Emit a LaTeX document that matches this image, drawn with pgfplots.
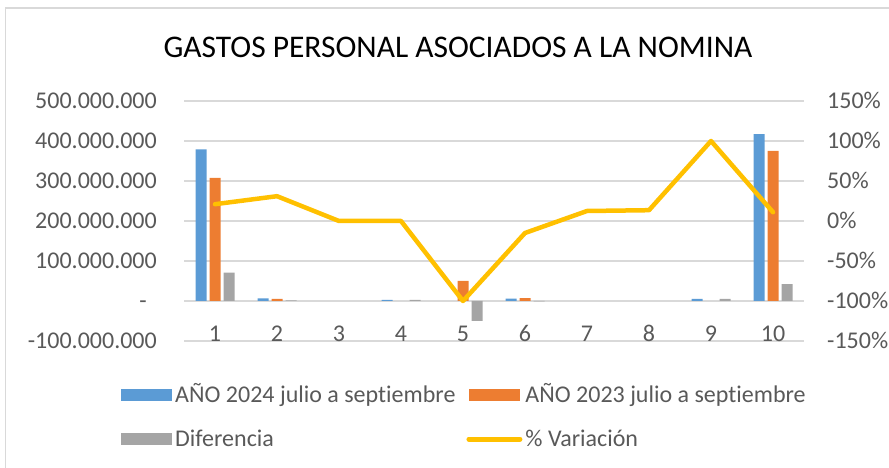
\documentclass[border=0pt]{standalone}
\usepackage{fontspec}
\setmainfont{Carlito}[Ligatures=NoCommon]
\usepackage{pgfplots}
\pgfplotsset{compat=1.18}

\definecolor{cblue}{HTML}{5B9BD5}
\definecolor{corange}{HTML}{ED7D31}
\definecolor{cgray}{HTML}{A5A5A5}
\definecolor{cyellow}{HTML}{FFC000}
\definecolor{gridgray}{HTML}{D9D9D9}
\definecolor{txtgray}{HTML}{595959}

\pgfplotsset{
  barleg/.style={legend image code/.code={\fill[##1] (0pt,-6pt) rectangle (51pt,6pt);}},
  lineleg/.style={legend image code/.code={\draw[##1] (0pt,0pt) -- (51pt,0pt);}},
  tickfont/.style={font=\fontsize{24}{28}\selectfont, text=txtgray},
}

\begin{document}
\begin{tikzpicture}
\path[use as bounding box] (0,0) rectangle (889pt,468pt);
\draw[gridgray, line width=1.5pt] (5.5pt,-5pt) -- (5.5pt,460pt) -- (895pt,460pt);

% left axis: amounts in millions (zero values left out)
\begin{axis}[
  at={(184pt,127pt)}, anchor=south west,
  width=620pt, height=240pt, scale only axis,
  xmin=0.5, xmax=10.5, ymin=-100, ymax=500,
  axis line style={draw=none},
  major tick length=0pt,
  ymajorgrids, grid style={gridgray, line width=1.5pt},
  xtick={1,...,10},
  xticklabels={1,2,3,4,5,6,7,8,9,10},
  xticklabel style={tickfont, anchor=center, inner sep=0pt, yshift=7.5pt},
  ytick={-100,0,100,200,300,400,500},
  yticklabels={-100.000.000,-\hspace*{10pt},100.000.000,200.000.000,300.000.000,400.000.000,500.000.000},
  yticklabel style={tickfont, anchor=east, inner sep=0pt, xshift=-27pt,
    text height=15.2pt, text depth=0pt},
  title={GASTOS PERSONAL ASOCIADOS A LA NOMINA},
  title style={at={(0.4419,1.2)}, anchor=center, inner sep=0pt,
    font=\fontsize{31.5}{36}\selectfont, text=black},
  legend columns=2,
  legend cell align=left,
  legend style={at={(-0.1016,-0.165)}, anchor=north west, draw=none, fill=none,
    inner sep=0pt, font=\fontsize{24}{28}\selectfont, text=txtgray,
    row sep=15.4pt,
    nodes={inner xsep=3pt, inner ysep=2pt, text height=20pt, text depth=4.6pt},
    /tikz/every odd column/.append style={column sep=0pt},
    /tikz/every even column/.append style={column sep=8pt}},
]
\addplot[ybar, bar width=11pt, bar shift=-14pt, fill=cblue, draw=none, barleg]
  coordinates {(1,379) (2,6.5) (4,2.5) (6,6) (9,5) (10,417)};
\addlegendentry{AÑO 2024 julio a septiembre}
\addplot[ybar, bar width=11pt, bar shift=0pt, fill=corange, draw=none, barleg]
  coordinates {(1,308) (2,5) (5,50) (6,7) (10,375)};
\addlegendentry{AÑO 2023 julio a septiembre}
\addplot[ybar, bar width=11pt, bar shift=14pt, fill=cgray, draw=none, barleg]
  coordinates {(1,71) (2,1.5) (4,2.5) (5,-50) (6,-1) (9,5) (10,42)};
\addlegendentry{Diferencia}
\addlegendimage{lineleg, cyellow, line width=5pt, line cap=round}
\addlegendentry{\% Variación}
\end{axis}

% right axis: percentage change
\begin{axis}[
  at={(184pt,127pt)}, anchor=south west,
  width=620pt, height=240pt, scale only axis,
  xmin=0.5, xmax=10.5, ymin=-1.5, ymax=1.5,
  axis line style={draw=none},
  major tick length=0pt,
  xtick=\empty,
  ytick={-1.5,-1,-0.5,0,0.5,1,1.5},
  yticklabels={-150\%,-100\%,-50\%,0\%,50\%,100\%,150\%},
  yticklabel pos=right,
  yticklabel style={tickfont, anchor=west, inner sep=0pt, xshift=23pt,
    text height=15.2pt, text depth=0pt},
]
\addplot[cyellow, line width=4.5pt, line join=round, line cap=round]
  coordinates {(1,0.21) (2,0.31) (3,0) (4,0) (5,-1) (6,-0.15) (7,0.125) (8,0.135) (9,1.0) (10,0.11)};
\end{axis}
\end{tikzpicture}
\end{document}
